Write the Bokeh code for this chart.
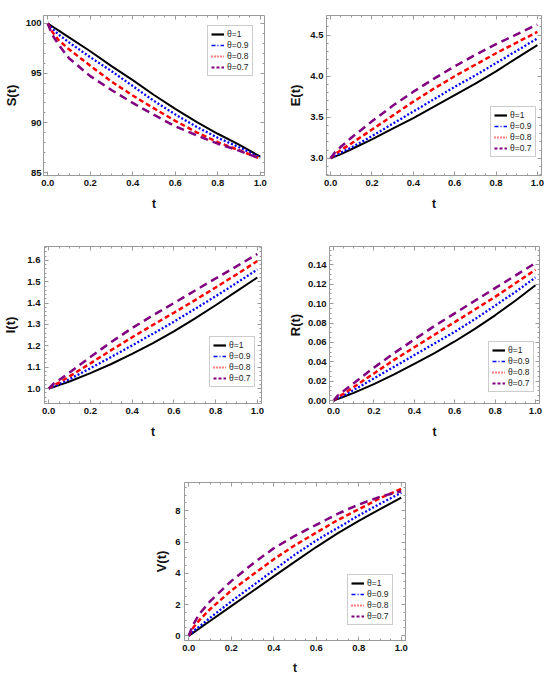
import math
from bokeh.plotting import figure
from bokeh.models import (Range1d, FixedTicker, LinearAxis, Legend, LegendItem,
                          ColumnDataSource, CustomLabelingPolicy)
from bokeh.layouts import column, row
from bokeh.embed import file_html
from bokeh.resources import INLINE

# ---------------- data ----------------
t = [0, 0.02, 0.05, 0.1, 0.2, 0.3, 0.4, 0.5, 0.6, 0.7, 0.8, 0.9, 1.0]
theta_labels = ["θ=1", "θ=0.9", "θ=0.8", "θ=0.7"]

S_1 = [100, 99.72, 99.3, 98.6, 97.2, 95.7, 94.3, 92.8, 91.4, 90.1, 88.9, 87.8, 86.6]
S_09 = [100, 99.5, 98.9, 98.1, 96.6, 95.2, 93.7, 92.2, 90.85, 89.6, 88.5, 87.55, 86.5]
S_08 = [100, 99.2, 98.35, 97.4, 95.75, 94.15, 92.75, 91.45, 90.2, 89.05, 88.05, 87.25, 86.4]
S_07 = [100, 98.9, 97.9, 96.5, 94.7, 93.3, 92.0, 90.8, 89.65, 88.75, 87.9, 87.2, 86.4]

E_1 = [3.0, 3.02, 3.05, 3.11, 3.23, 3.36, 3.49, 3.63, 3.77, 3.91, 4.06, 4.22, 4.38]
E_09 = [3.0, 3.03, 3.07, 3.13, 3.27, 3.42, 3.57, 3.72, 3.87, 4.01, 4.16, 4.31, 4.46]
E_08 = [3.0, 3.05, 3.10, 3.18, 3.35, 3.52, 3.69, 3.85, 4.00, 4.14, 4.28, 4.41, 4.54]
E_07 = [3.0, 3.07, 3.14, 3.25, 3.45, 3.64, 3.81, 3.97, 4.12, 4.26, 4.39, 4.51, 4.63]

I_1 = [1.0, 1.006, 1.016, 1.033, 1.072, 1.115, 1.162, 1.213, 1.268, 1.327, 1.39, 1.455, 1.52]
I_09 = [1.0, 1.009, 1.021, 1.044, 1.095, 1.148, 1.202, 1.257, 1.313, 1.372, 1.432, 1.494, 1.557]
I_08 = [1.0, 1.013, 1.028, 1.057, 1.118, 1.180, 1.240, 1.298, 1.355, 1.413, 1.473, 1.534, 1.597]
I_07 = [1.0, 1.02, 1.04, 1.075, 1.148, 1.218, 1.283, 1.343, 1.400, 1.458, 1.515, 1.572, 1.63]

R_1 = [0, 0.0015, 0.004, 0.008, 0.017, 0.027, 0.038, 0.049, 0.061, 0.074, 0.088, 0.103, 0.119]
R_09 = [0, 0.0025, 0.005, 0.011, 0.023, 0.035, 0.047, 0.059, 0.071, 0.084, 0.098, 0.112, 0.127]
R_08 = [0, 0.0035, 0.007, 0.014, 0.028, 0.042, 0.055, 0.068, 0.081, 0.094, 0.107, 0.121, 0.135]
R_07 = [0, 0.005, 0.010, 0.018, 0.034, 0.049, 0.063, 0.077, 0.090, 0.103, 0.116, 0.129, 0.142]

V_1 = [0, 0.19, 0.48, 0.95, 1.9, 2.85, 3.8, 4.75, 5.68, 6.55, 7.35, 8.1, 8.85]
V_09 = [0, 0.28, 0.6, 1.15, 2.2, 3.2, 4.2, 5.2, 6.1, 6.9, 7.7, 8.45, 9.15]
V_08 = [0, 0.5, 1.0, 1.7, 2.9, 3.9, 4.9, 5.8, 6.6, 7.4, 8.1, 8.8, 9.4]
V_07 = [0, 0.7, 1.4, 2.2, 3.5, 4.6, 5.6, 6.4, 7.1, 7.8, 8.4, 8.9, 9.25]

x_ticks = [0.0, 0.2, 0.4, 0.6, 0.8, 1.0]
x_tick_labels = ["0.0", "0.2", "0.4", "0.6", "0.8", "1.0"]
S_ticks = [85, 90, 95, 100]
S_tick_labels = ["85", "90", "95", "100"]
E_ticks = [3.0, 3.5, 4.0, 4.5]
E_tick_labels = ["3.0", "3.5", "4.0", "4.5"]
I_ticks = [1.0, 1.1, 1.2, 1.3, 1.4, 1.5, 1.6]
I_tick_labels = ["1.0", "1.1", "1.2", "1.3", "1.4", "1.5", "1.6"]
R_ticks = [0.0, 0.02, 0.04, 0.06, 0.08, 0.10, 0.12, 0.14]
R_tick_labels = ["0.00", "0.02", "0.04", "0.06", "0.08", "0.10", "0.12", "0.14"]
V_ticks = [0, 2, 4, 6, 8]
V_tick_labels = ["0", "2", "4", "6", "8"]

# ---------------- styles ----------------
FONT = "Liberation Sans"
GREY = "#9a9a9a"
curve_styles = [
    dict(line_color="black", line_width=2.0, line_dash="solid"),
    dict(line_color="#0000ff", line_width=2.3, line_dash="2 2"),
    dict(line_color="#ff0000", line_width=2.5, line_dash="5 3"),
    dict(line_color="#800080", line_width=2.5, line_dash="8 5"),
]
legend_styles = [
    dict(line_color="black", line_width=2.2, line_dash="solid"),
    dict(line_color="#0000ff", line_width=1.5, line_dash="4 2 1 2"),
    dict(line_color="#ff0000", line_width=1.8, line_dash="1 2"),
    dict(line_color="#800080", line_width=2.0, line_dash="3 2"),
]

HIDE_LABELS = "const all = [...indices]; for (const i of all) indices.unset(i);"


def minor_list(lo, hi, step):
    n = int(round((hi - lo) / step))
    return [round(lo + i * step, 6) for i in range(n + 1)]


def style_ticks(ax):
    ax.major_tick_line_color = GREY
    ax.minor_tick_line_color = GREY
    ax.major_tick_in = 4
    ax.major_tick_out = 0
    ax.minor_tick_in = 2
    ax.minor_tick_out = 0


def make_panel(width, height, bl, br, bt, bb, yr, yticks, ylabels, yminor, ylabel,
               series, leg_xy, ylab_standoff, ytick_standoff, xlab_standoff, xtick_standoff=4):
    p = figure(width=width, height=height, output_backend="svg", toolbar_location=None,
               x_range=Range1d(-0.02, 1.02), y_range=Range1d(*yr),
               min_border_left=bl, min_border_right=br, min_border_top=bt, min_border_bottom=bb,
               x_axis_label="t", y_axis_label=ylabel)
    p.grid.visible = False
    p.outline_line_color = GREY
    p.outline_line_width = 1
    p.background_fill_color = "white"
    p.border_fill_color = "white"

    xt = FixedTicker(ticks=x_ticks, minor_ticks=minor_list(0, 1, 0.05))
    yt = FixedTicker(ticks=yticks, minor_ticks=yminor)
    p.xaxis.ticker = xt
    p.yaxis.ticker = yt
    p.xaxis.major_label_overrides = dict(zip(x_ticks, x_tick_labels))
    p.yaxis.major_label_overrides = dict(zip(yticks, ylabels))

    for ax in (p.xaxis[0], p.yaxis[0]):
        style_ticks(ax)
        ax.axis_line_color = GREY
        ax.major_label_text_font = FONT
        ax.major_label_text_font_style = "bold"
        ax.major_label_text_font_size = "9.5px"
        ax.major_label_text_color = "#111111"
        ax.axis_label_text_font = FONT
        ax.axis_label_text_font_style = "bold"
        ax.axis_label_text_color = "#111111"
    p.xaxis.axis_label_text_font_size = "12px"
    p.yaxis.axis_label_text_font_size = "13px"
    p.xaxis.major_label_standoff = xtick_standoff
    p.xaxis.axis_label_standoff = xlab_standoff
    p.yaxis.major_label_standoff = ytick_standoff
    p.yaxis.axis_label_standoff = ylab_standoff

    # frame ticks on top and right (labels suppressed)
    for side, tk in (("above", xt), ("right", yt)):
        ax = LinearAxis(ticker=tk, major_label_policy=CustomLabelingPolicy(code=HIDE_LABELS))
        style_ticks(ax)
        ax.axis_line_color = None
        ax.major_label_text_font_size = "1px"
        ax.major_label_standoff = 0
        p.add_layout(ax, side)

    for ys, st in zip(series, curve_styles):
        src = ColumnDataSource(dict(x=t, y=ys))
        p.line("x", "y", source=src, **st)

    items = []
    for lab, st in zip(theta_labels, legend_styles):
        r = p.line(x=[math.nan], y=[math.nan], **st)
        items.append(LegendItem(label=lab, renderers=[r]))
    leg = Legend(items=items, location=leg_xy, margin=0,
                 label_text_font=FONT, label_text_font_size="8.5px", label_text_color="#222222",
                 glyph_width=13, glyph_height=10, label_height=10, label_standoff=3,
                 spacing=1, padding=3, border_line_color=GREY, border_line_width=1,
                 background_fill_color="white", background_fill_alpha=1.0)
    p.add_layout(leg, "center")
    return p


# page origin is the top-left of the window; frames placed as in the reference
pS = make_panel(285, 228, 43, 21, 15, 53, (84.7, 100.8), S_ticks, S_tick_labels,
                minor_list(85, 100, 1), "S(t)", [S_1, S_09, S_08, S_07], (164, 99), 4, 2, 8)
pE = make_panel(263, 228, 38, 7, 15, 53, (2.79, 4.74), E_ticks, E_tick_labels,
                minor_list(2.8, 4.7, 0.1), "E(t)", [E_1, E_09, E_08, E_07], (164, 18), 4, 3, 8)
pI = make_panel(285, 227, 41, 24, 18, 49, (0.93, 1.665), I_ticks, I_tick_labels,
                minor_list(0.94, 1.66, 0.02), "I(t)", [I_1, I_09, I_08, I_07], (165, 16), 6, 4, 8)
pR = make_panel(263, 227, 43, 9, 16, 52, (-0.003, 0.159), R_ticks, R_tick_labels,
                minor_list(0.0, 0.155, 0.005), "R(t)", [R_1, R_09, R_08, R_07], (159, 11), 2, 3, 8)
pV = make_panel(415, 222, 184, 10, 27, 35, (-0.3, 9.81), V_ticks, V_tick_labels,
                minor_list(0, 9.5, 0.5), "V(t)", [V_1, V_09, V_08, V_07], (163, 15), 3, 4, 7)

layout = column(row(pS, pE), row(pI, pR), pV)
open("out.html", "w").write(file_html(layout, INLINE))
